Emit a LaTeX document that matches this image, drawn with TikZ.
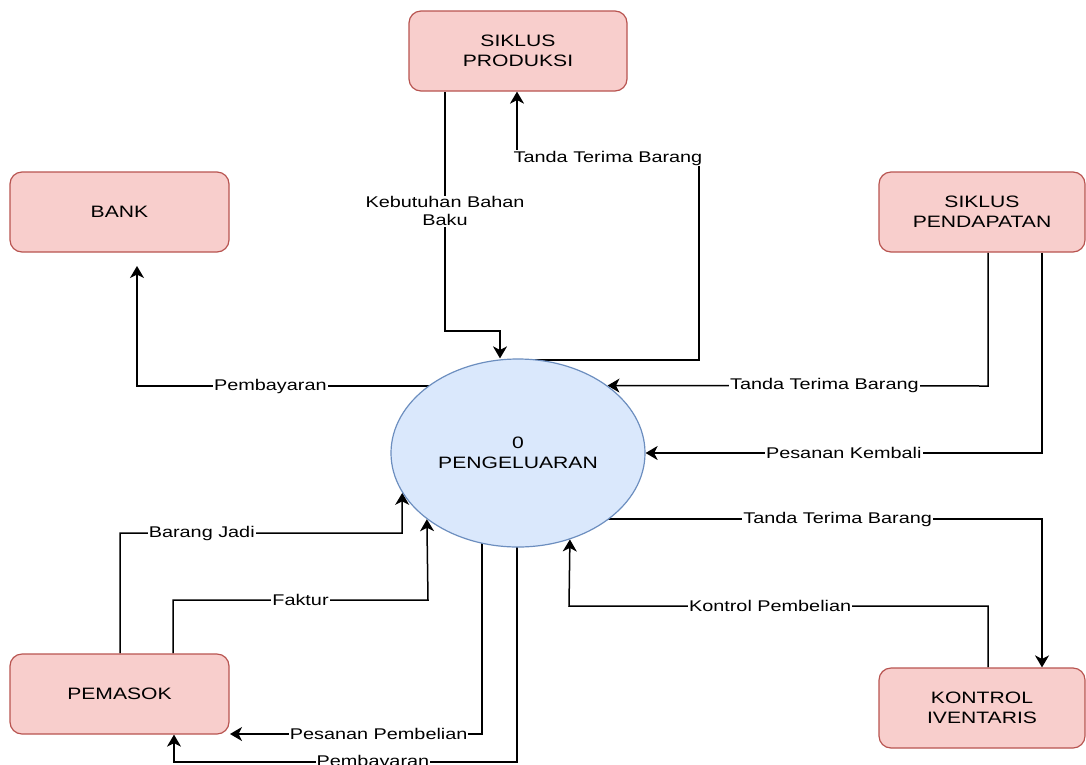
\documentclass[tikz,border=0pt]{standalone}
\usepackage{fontspec}
\setmainfont{Liberation Sans}[FakeStretch=1.28]
\usetikzlibrary{arrows.meta,shapes.geometric,backgrounds}
\definecolor{boxfill}{HTML}{F8CECC}
\definecolor{boxdraw}{HTML}{B85450}
\definecolor{procfill}{HTML}{DAE8FC}
\definecolor{procdraw}{HTML}{6C8EBF}
\tikzset{
  entity/.style={draw=boxdraw, fill=boxfill, line width=1.2pt, rounded corners=12pt,
    align=center, inner sep=0pt, font=\fontsize{16.5}{20}\selectfont},
  proc/.style={ellipse, draw=procdraw, fill=procfill, line width=1.2pt, inner sep=0pt,
    minimum width=254pt, minimum height=188pt, align=center, font=\fontsize{16.5}{20}\selectfont},
  tipshape/.tip={Stealth[length=12pt,width=14pt,inset=3.5pt]},
  flow/.style={draw=black, line width=1.5pt, arrows={-tipshape}},
  lbl/.style={fill=white, inner sep=1pt, align=center, font=\fontsize{15.5}{18}\selectfont},
}
\begin{document}
\begin{tikzpicture}[x=1pt,y=-1pt]
\useasboundingbox (0,0) rectangle (1086,764);
% nodes
\node[entity, minimum width=218pt, minimum height=80pt] (prod) at (518,51) {SIKLUS\\PRODUKSI};
\node[entity, minimum width=219pt, minimum height=80pt] (bank) at (119.5,212) {BANK};
\node[entity, minimum width=206pt, minimum height=80pt] (pend) at (982,212) {SIKLUS\\PENDAPATAN};
\node[entity, minimum width=219pt, minimum height=80pt] (pem) at (119.5,694) {PEMASOK};
\node[entity, minimum width=206pt, minimum height=80pt] (kont) at (982,708) {KONTROL\\IVENTARIS};
\node[proc] (proc) at (518,453) {0\\PENGELUARAN};
% bend coordinates
\coordinate (k1) at (445,331);
\coordinate (k2) at (500,331);
\coordinate (t1) at (699,360);
\coordinate (t2) at (699,158);
\coordinate (t3) at (517,158);
\coordinate (b1) at (137,386);
\coordinate (b2) at (137,266);
\coordinate (p1) at (988,386);
\coordinate (p2) at (1042,453);
\coordinate (r1) at (1042,519);
\coordinate (c1) at (988,606);
\coordinate (c2) at (569,606);
\coordinate (j1) at (120,533);
\coordinate (j2) at (402,533);
\coordinate (f1) at (173,600);
\coordinate (f2) at (428,600);
\coordinate (s1) at (482,734);
\coordinate (s2) at (230,734);
\coordinate (y1) at (517,762);
\coordinate (y2) at (174,762);
% connectors
\begin{pgfonlayer}{background}
\draw[flow] (prod.south -| k1) -- node[lbl, pos=0.5]{Kebutuhan Bahan\\Baku} (k1) -- (k2) -- (proc.north -| k2);
\draw[flow] (proc.center |- t1) -- (t1) -- (t2) -- node[lbl]{Tanda Terima Barang} (t3) -- (prod.south -| t3);
\draw[flow] (proc.center |- b1) -- node[lbl, pos=0.65]{Pembayaran} (b1) -- (b2);
\draw[flow] (pend.south -| p1) -- (p1) -- node[lbl, pos=0.43]{Tanda Terima Barang} (proc.37);
\draw[flow] (pend.south -| p2) -- (p2) -- node[lbl, pos=0.5]{Pesanan Kembali} (proc.east);
\draw[flow] (proc.center |- r1) -- node[lbl, pos=0.61]{Tanda Terima Barang} (r1) -- (kont.north -| r1);
\draw[flow] (kont.north -| c1) -- (c1) -- node[lbl, pos=0.52]{Kontrol Pembelian} (c2) -- (proc.-59.3);
\draw[flow] (pem.north -| j1) -- (j1) -- node[lbl, pos=0.29]{Barang Jadi} (j2) -- (proc.199.2);
\draw[flow] (pem.north -| f1) -- (f1) -- node[lbl, pos=0.5]{Faktur} (f2) -- (proc.216.3);
\draw[flow] (proc.center -| s1) -- (s1) -- node[lbl, pos=0.41]{Pesanan Pembelian} (s2);
\draw[flow] (proc.center -| y1) -- (y1) -- node[lbl, pos=0.42]{Pembayaran} (y2) -- (pem.south -| y2);
\end{pgfonlayer}
\end{tikzpicture}
\end{document}
